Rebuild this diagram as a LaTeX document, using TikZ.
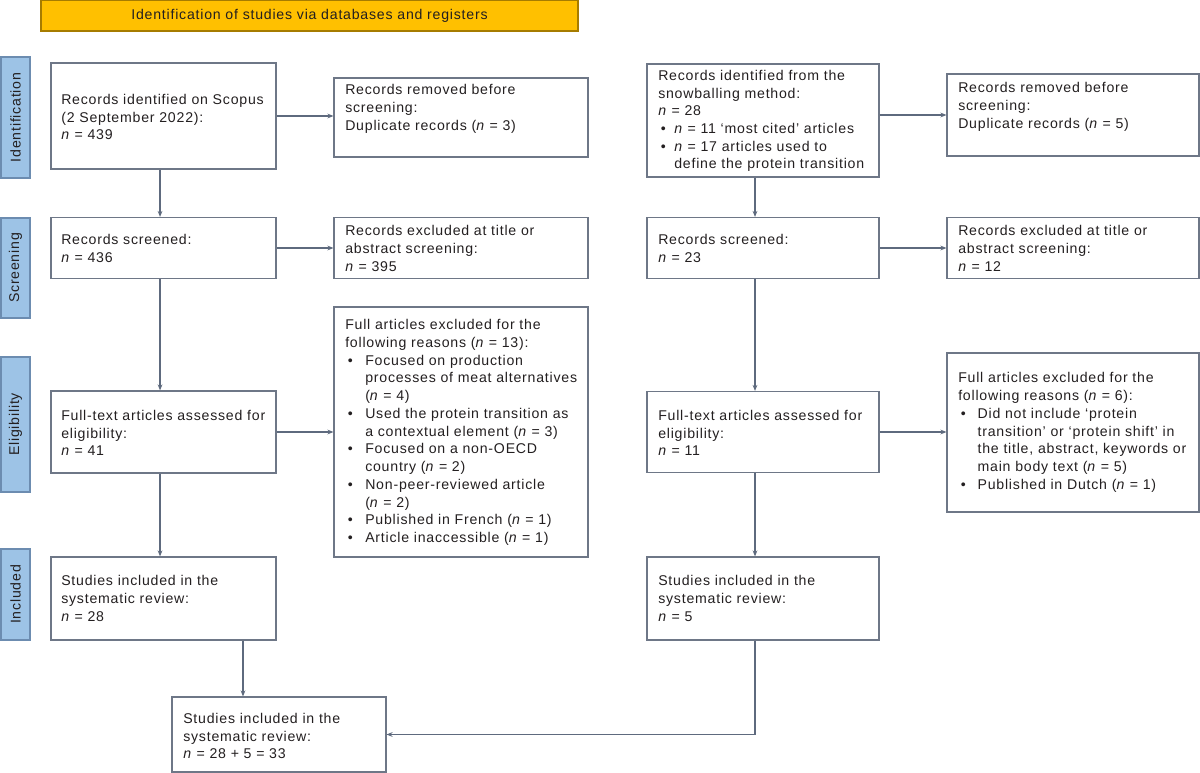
\documentclass[tikz,border=0pt]{standalone}
\usepackage{fontspec}
\setmainfont{Liberation Sans}[LetterSpace=5.5]
\usetikzlibrary{arrows.meta}
\definecolor{boxc}{HTML}{6E7787}
\definecolor{arrc}{HTML}{5E6A7E}
\definecolor{txtc}{HTML}{231F20}
\definecolor{sidef}{HTML}{9DC3E6}
\definecolor{sidel}{HTML}{6C8CB0}
\definecolor{titf}{HTML}{FFC000}
\definecolor{titl}{HTML}{A67C00}
\newcommand\mybl[1]{\makebox[#1][l]{\hspace*{2pt}•}}
\newcommand\myind[1]{\hspace*{#1}}
\begin{document}
\begin{tikzpicture}[x=0.75pt,y=-0.75pt,
  box/.style={draw=boxc, line width=0.9pt, fill=white, inner sep=0pt},
  txt/.style={font=\fontsize{10.6}{13.3}\selectfont, text=txtc, align=left, inner sep=0pt, anchor=west},
  side/.style={draw=sidel, fill=sidef, line width=0.9pt, inner sep=0pt, rotate=90, minimum height=21.75pt, font=\fontsize{10.6}{12}\selectfont, text=txtc},
  arr/.style={draw=arrc, line width=0.9pt, -{Stealth[length=4.5pt,width=3.6pt]}},
  ln/.style={draw=arrc, line width=0.9pt}]
\useasboundingbox (0,0) rectangle (1200,773);

% title
\node[draw=titl, fill=titf, line width=1pt, minimum width=402.75pt, minimum height=23.25pt, inner sep=0pt,
  font=\fontsize{10.6}{12}\selectfont, text=txtc] (title) at (309.5,15.5) {Identification of studies via databases and registers};

% side labels
\node[side, minimum width=90.75pt] (sI) at (15.5,117.5) {Identification};
\node[side, minimum width=75pt] (sS) at (15.5,268) {Screening};
\node[side, minimum width=101.25pt] (sE) at (15.5,424.5) {Eligibility};
\node[side, minimum width=68.25pt] (sN) at (15.5,594.5) {Included};

% left column boxes
\node[box, minimum width=168.75pt, minimum height=79.5pt] (A1) at (163.5,116) {};
\node[box, minimum width=168.75pt, minimum height=45.75pt] (A2) at (163.5,248) {};
\node[box, minimum width=168.75pt, minimum height=61.5pt] (A3) at (163.5,432) {};
\node[box, minimum width=168.75pt, minimum height=62.25pt] (A4) at (163.5,598.5) {};
\node[box, minimum width=190.5pt, minimum height=59.25pt] (B1) at (461,117.5) {};
\node[box, minimum width=190.5pt, minimum height=45.75pt] (B2) at (461,248) {};
\node[box, minimum width=190.5pt, minimum height=187.5pt] (B3) at (461,432) {};
% right column boxes
\node[box, minimum width=174pt, minimum height=84.75pt] (C1) at (763,120.5) {};
\node[box, minimum width=174pt, minimum height=45.75pt] (C2) at (763,248) {};
\node[box, minimum width=174pt, minimum height=60.75pt] (C3) at (763,432) {};
\node[box, minimum width=174pt, minimum height=62.25pt] (C4) at (763,598.5) {};
\node[box, minimum width=189pt, minimum height=61.5pt] (D1) at (1073,115) {};
\node[box, minimum width=189pt, minimum height=45.75pt] (D2) at (1073,248) {};
\node[box, minimum width=189pt, minimum height=119.25pt] (D3) at (1073,432.5) {};
% final box
\node[box, minimum width=160.5pt, minimum height=56.25pt] (A5) at (279,734.5) {};

% texts
\node[txt] (A1t) at (61,117) {Records identified on Scopus\\(2 September 2022):\\\textit{n} = 439};
\node[txt] (B1t) at (345,109) {Records removed before\\screening:\\Duplicate records (\textit{n} = 3)};
\node[txt] (A2t) at (61,248.5) {Records screened:\\\textit{n} = 436};
\node[txt] (B2t) at (345,248.5) {Records excluded at title or\\abstract screening:\\\textit{n} = 395};
\node[txt] (A3t) at (61,433) {Full-text articles assessed for\\eligibility:\\\textit{n} = 41};
\node[txt] (B3t) at (345,432.5) {Full articles excluded for the\\following reasons (\textit{n} = 13):\\\mybl{15pt}Focused on production\\\myind{15pt}processes of meat alternatives\\\myind{15pt}(\textit{n} = 4)\\\mybl{15pt}Used the protein transition as\\\myind{15pt}a contextual element (\textit{n} = 3)\\\mybl{15pt}Focused on a non-OECD\\\myind{15pt}country (\textit{n} = 2)\\\mybl{15pt}Non-peer-reviewed article\\\myind{15pt}(\textit{n} = 2)\\\mybl{15pt}Published in French (\textit{n} = 1)\\\mybl{15pt}Article inaccessible (\textit{n} = 1)};
\node[txt] (A4t) at (61,598.5) {Studies included in the\\systematic review:\\\textit{n} = 28};
\node[txt] (C1t) at (658,121) {Records identified from the\\snowballing method:\\\textit{n} = 28\\\mybl{12pt}\textit{n} = 11 ‘most cited’ articles\\\mybl{12pt}\textit{n} = 17 articles used to\\\myind{12pt}define the protein transition};
\node[txt] (D1t) at (958,107) {Records removed before\\screening:\\Duplicate records (\textit{n} = 5)};
\node[txt] (C2t) at (658,248.5) {Records screened:\\\textit{n} = 23};
\node[txt] (D2t) at (958,248.5) {Records excluded at title or\\abstract screening:\\\textit{n} = 12};
\node[txt] (C3t) at (658,433) {Full-text articles assessed for\\eligibility:\\\textit{n} = 11};
\node[txt] (D3t) at (958,432.5) {Full articles excluded for the\\following reasons (\textit{n} = 6):\\\mybl{14.5pt}Did not include ‘protein\\\myind{14.5pt}transition’ or ‘protein shift’ in\\\myind{14.5pt}the title, abstract, keywords or\\\myind{14.5pt}main body text (\textit{n} = 5)\\\mybl{14.5pt}Published in Dutch (\textit{n} = 1)};
\node[txt] (C4t) at (658,598.5) {Studies included in the\\systematic review:\\\textit{n} = 5};
\node[txt] (A5t) at (183,736) {Studies included in the\\systematic review:\\\textit{n} = 28 + 5 = 33};

% connectors
\draw[arr] ([xshift=-2.6pt]A1.south) -- ([xshift=-2.6pt]A2.north);
\draw[arr] ([xshift=-2.6pt]A2.south) -- ([xshift=-2.6pt]A3.north);
\draw[arr] ([xshift=-2.6pt]A3.south) -- ([xshift=-2.6pt]A4.north);
\draw[arr] ([xshift=-6pt]C1.south) -- ([xshift=-6pt]C2.north);
\draw[arr] ([xshift=-6pt]C2.south) -- ([xshift=-6pt]C3.north);
\draw[arr] ([xshift=-6pt]C3.south) -- ([xshift=-6pt]C4.north);
\draw[arr] (A1.east) -- (A1.east -| B1.west);
\draw[arr] (A2.east) -- (B2.west);
\draw[arr] (A3.east) -- (A3.east -| B3.west);
\draw[arr] (C1.east |- D1.west) -- (D1.west);
\draw[arr] (C2.east) -- (D2.west);
\draw[arr] (C3.east) -- (C3.east -| D3.west);
\coordinate (jl) at (243,640);
\draw[arr] (A4.south -| jl) -- (A5.north -| jl);
\draw[arr] ([xshift=-6pt]C4.south) |- (A5.east);
\end{tikzpicture}
\end{document}
